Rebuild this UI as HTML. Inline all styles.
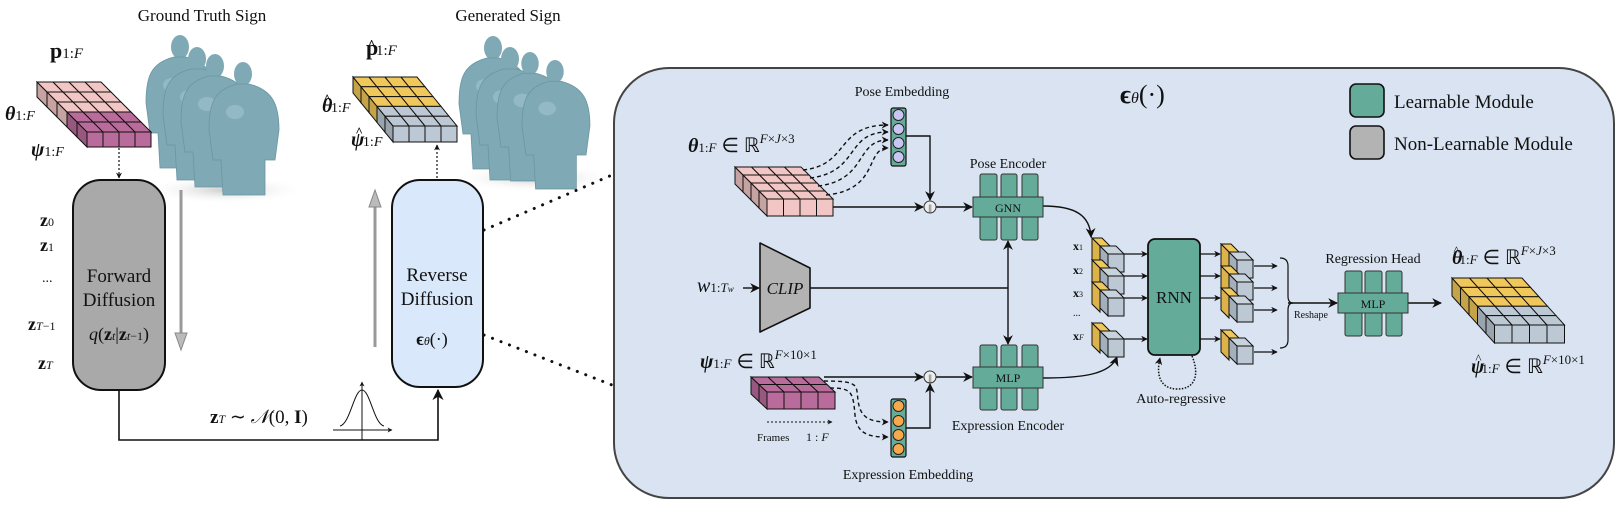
<!DOCTYPE html>
<html><head><meta charset="utf-8"><style>
html,body{margin:0;padding:0;background:#fff}
svg{display:block}
text{font-family:"Liberation Serif",serif;fill:#111}
.b{font-weight:bold}
.i{font-style:italic}
</style></head><body>
<svg id="s" width="1618" height="510" viewBox="0 0 1618 510" xmlns="http://www.w3.org/2000/svg">
<defs>
<marker id="ar" viewBox="0 0 10 10" refX="9" refY="5" markerWidth="7" markerHeight="7" orient="auto-start-reverse"><path d="M0,0 L10,5 L0,10 L3,5 z" fill="#111"/></marker>
<marker id="ars" viewBox="0 0 10 10" refX="9" refY="5" markerWidth="5" markerHeight="5" orient="auto-start-reverse"><path d="M0,0 L10,5 L0,10 L3,5 z" fill="#111"/></marker>
<radialGradient id="sh" cx="0.5" cy="0.5" r="0.5"><stop offset="0" stop-color="#ccc"/><stop offset="1" stop-color="#fff" stop-opacity="0"/></radialGradient>
</defs>

<!-- Panel (drawn first) -->
<rect x="614" y="68" width="1000" height="430" rx="55" fill="#d9e3f1" stroke="#444" stroke-width="2"/>

<!-- Titles -->
<text x="202" y="21" font-size="17" text-anchor="middle">Ground Truth Sign</text>
<text x="508" y="21" font-size="17" text-anchor="middle">Generated Sign</text>
<text x="50" y="58" font-size="22" class="b">p<tspan font-size="15" font-weight="normal">1:</tspan><tspan font-size="15" font-weight="normal" class="i">F</tspan></text>
<text x="366" y="55" font-size="22" class="b">p<tspan dx="-11" dy="-5" font-size="15">^</tspan><tspan dy="5" font-size="15" font-weight="normal">1:</tspan><tspan font-size="15" font-weight="normal" class="i">F</tspan></text>
<text x="5" y="120" font-size="20" class="b i">θ<tspan font-size="14" font-weight="normal" font-style="normal">1:</tspan><tspan font-size="14" font-weight="normal">F</tspan></text>
<text x="31" y="156" font-size="20" class="b i">ψ<tspan font-size="14" font-weight="normal" font-style="normal">1:</tspan><tspan font-size="14" font-weight="normal">F</tspan></text>
<text x="322" y="112" font-size="20" class="b i">θ<tspan dx="-9" dy="-9" font-size="13" font-style="normal">^</tspan><tspan dy="9" font-size="14" font-weight="normal" font-style="normal">1:</tspan><tspan font-size="14" font-weight="normal">F</tspan></text>
<text x="351" y="146" font-size="20" class="b i">ψ<tspan dx="-9" dy="-10" font-size="13" font-style="normal">^</tspan><tspan dy="10" font-size="14" font-weight="normal" font-style="normal">1:</tspan><tspan font-size="14" font-weight="normal">F</tspan></text>

<g id="humans"></g>
<g id="tens"></g>

<!-- dotted arrows -->
<line x1="119" y1="148" x2="119" y2="178" stroke="#111" stroke-width="1.2" stroke-dasharray="2,2" marker-end="url(#ars)"/>
<line x1="437" y1="178" x2="437" y2="145" stroke="#111" stroke-width="1.2" stroke-dasharray="2,2" marker-end="url(#ars)"/>

<!-- Forward box -->
<rect x="73" y="180" width="92" height="210" rx="28" fill="#a9a9a9" stroke="#111" stroke-width="2"/>
<text x="119" y="282" font-size="19" text-anchor="middle">Forward</text>
<text x="119" y="306" font-size="19" text-anchor="middle">Diffusion</text>
<text x="119" y="340" font-size="18" text-anchor="middle"><tspan class="i">q</tspan>(<tspan class="b">z</tspan><tspan font-size="12" class="i">t</tspan>|<tspan class="b">z</tspan><tspan font-size="12"><tspan class="i">t</tspan>−1</tspan>)</text>
<!-- gray arrows -->
<line x1="181" y1="190" x2="181" y2="335" stroke="#999" stroke-width="3"/>
<path d="M175,333 L187,333 L181,350 z" fill="#bbb" stroke="#888"/>
<line x1="375" y1="347" x2="375" y2="205" stroke="#999" stroke-width="3"/>
<path d="M369,207 L381,207 L375,190 z" fill="#bbb" stroke="#888"/>
<!-- z labels -->
<text x="40" y="226" font-size="18" class="b">z<tspan font-size="12" font-weight="normal">0</tspan></text>
<text x="40" y="251" font-size="18" class="b">z<tspan font-size="12" font-weight="normal">1</tspan></text>
<text x="42" y="282" font-size="14">...</text>
<text x="28" y="330" font-size="18" class="b">z<tspan font-size="12" font-weight="normal"><tspan class="i">T</tspan>−1</tspan></text>
<text x="38" y="369" font-size="18" class="b">z<tspan font-size="12" font-weight="normal" class="i">T</tspan></text>

<!-- Reverse box -->
<rect x="392" y="180" width="91" height="207" rx="28" fill="#dae8fb" stroke="#111" stroke-width="2"/>
<text x="437" y="281" font-size="19" text-anchor="middle">Reverse</text>
<text x="437" y="305" font-size="19" text-anchor="middle">Diffusion</text>
<text x="432" y="345" font-size="18" text-anchor="middle"><tspan class="b">ϵ</tspan><tspan font-size="12" class="i">θ</tspan>(·)</text>

<!-- bottom connector -->
<polyline points="119,390 119,440 438,440 438,390" fill="none" stroke="#111" stroke-width="1.6" marker-end="url(#ar)"/>
<text x="210" y="423" font-size="19"><tspan class="b">z</tspan><tspan font-size="12" class="i">T</tspan> ∼ <tspan class="i">𝒩</tspan>(0, <tspan class="b">I</tspan>)</text>
<line x1="333" y1="430" x2="392" y2="430" stroke="#111" stroke-width="1" marker-end="url(#ars)"/>
<line x1="362" y1="440" x2="362" y2="382" stroke="#111" stroke-width="1" marker-end="url(#ars)"/>
<path d="M340,426 C350,424 354,390 362,390 C370,390 374,424 384,426" fill="none" stroke="#111" stroke-width="1"/>

<!-- dotted zoom lines -->
<line x1="484" y1="230" x2="612" y2="175" stroke="#111" stroke-width="3" stroke-dasharray="0.1,9" stroke-linecap="round"/>
<line x1="484" y1="335" x2="612" y2="385" stroke="#111" stroke-width="3" stroke-dasharray="0.1,9" stroke-linecap="round"/>

<text x="1120" y="103" font-size="26"><tspan class="b">ϵ</tspan><tspan font-size="16" class="i">θ</tspan>(·)</text>
<rect x="1350" y="84" width="34" height="33" rx="6" fill="#64ab9a" stroke="#111" stroke-width="1.6"/>
<text x="1394" y="108" font-size="19">Learnable Module</text>
<rect x="1350" y="126" width="34" height="33" rx="6" fill="#b3b3b3" stroke="#111" stroke-width="1.6"/>
<text x="1394" y="150" font-size="19">Non-Learnable Module</text>

<text x="902" y="96" font-size="14" text-anchor="middle">Pose Embedding</text>
<text x="908" y="479" font-size="14" text-anchor="middle">Expression Embedding</text>
<text x="1008" y="168" font-size="14" text-anchor="middle">Pose Encoder</text>
<text x="1008" y="430" font-size="14" text-anchor="middle">Expression Encoder</text>

<text x="688" y="152" font-size="20"><tspan class="b i">θ</tspan><tspan font-size="13">1:</tspan><tspan font-size="13" class="i">F</tspan> ∈ ℝ<tspan font-size="13" dy="-9"><tspan class="i">F</tspan>×<tspan class="i">J</tspan>×3</tspan></text>
<text x="700" y="368" font-size="20"><tspan class="b i">ψ</tspan><tspan font-size="13">1:</tspan><tspan font-size="13" class="i">F</tspan> ∈ ℝ<tspan font-size="13" dy="-9"><tspan class="i">F</tspan>×10×1</tspan></text>
<text x="697" y="292" font-size="20" class="i">w<tspan font-size="13" font-style="normal">1:</tspan><tspan font-size="13">T<tspan font-size="9">w</tspan></tspan></text>

<!-- embeddings -->
<rect x="891" y="108" width="15" height="58" rx="2" fill="#64ab9a" stroke="#111" stroke-width="1.2"/>
<g fill="#c9c6f4" stroke="#222" stroke-width="1"><circle cx="898.5" cy="115" r="5.5"/><circle cx="898.5" cy="129" r="5.5"/><circle cx="898.5" cy="143" r="5.5"/><circle cx="898.5" cy="157" r="5.5"/></g>
<rect x="891" y="399" width="15" height="58" rx="2" fill="#64ab9a" stroke="#111" stroke-width="1.2"/>
<g fill="#f9a94d" stroke="#222" stroke-width="1"><circle cx="898.5" cy="406" r="5.5"/><circle cx="898.5" cy="421" r="5.5"/><circle cx="898.5" cy="435" r="5.5"/><circle cx="898.5" cy="449" r="5.5"/></g>

<!-- dashed curves -->
<g fill="none" stroke="#111" stroke-width="1.4" stroke-dasharray="4,3" marker-end="url(#ars)">
<path d="M803,170 C850,165 835,125 888,125"/>
<path d="M810,178 C860,172 845,132 888,132"/>
<path d="M818,186 C868,180 855,140 888,140"/>
<path d="M826,195 C880,190 865,148 888,148"/>
<path d="M824,381 C860,381 856,385 858,400 C860,418 870,422 888,422"/>
<path d="M830,388 C852,388 853,392 855,415 C857,435 870,437 888,437"/>
</g>
<line x1="767" y1="422" x2="832" y2="422" stroke="#111" stroke-width="1" stroke-dasharray="2,2" marker-end="url(#ars)"/>
<text x="757" y="441" font-size="11">Frames</text>
<text x="806" y="441" font-size="12">1 : <tspan class="i">F</tspan></text>

<!-- solid connectors -->
<g fill="none" stroke="#111" stroke-width="1.4" marker-end="url(#ar)">
<polyline points="906,136 930,136 930,200"/>
<line x1="833" y1="207" x2="923" y2="207"/>
<line x1="936" y1="207" x2="972" y2="207"/>
<line x1="824" y1="377" x2="923" y2="377"/>
<line x1="936" y1="377" x2="972" y2="377"/>
<polyline points="906,428 930,428 930,384"/>
<line x1="743" y1="288" x2="759" y2="288"/>
<path d="M1043,206 C1075,206 1090,215 1091,237"/>
<path d="M1043,378 C1080,378 1110,375 1117,357"/>
<line x1="1008" y1="288" x2="1008" y2="241"/>
<line x1="1008" y1="288" x2="1008" y2="344"/>
<line x1="1408" y1="303" x2="1441" y2="303"/>
<line x1="1288" y1="303" x2="1337" y2="303"/>
</g>
<line x1="810" y1="288" x2="1008" y2="288" stroke="#111" stroke-width="1.4"/>
<circle cx="930" cy="207" r="6" fill="#eee" stroke="#333"/><text x="930" y="211" font-size="9" text-anchor="middle">||</text>
<circle cx="930" cy="377" r="6" fill="#eee" stroke="#333"/><text x="930" y="381" font-size="9" text-anchor="middle">||</text>

<!-- CLIP -->
<path d="M760,243 L810,268 L810,308 L760,332 z" fill="#b3b3b3" stroke="#111" stroke-width="1.6" stroke-linejoin="round"/>
<text x="785" y="294" font-size="17" class="i" text-anchor="middle">CLIP</text>

<!-- GNN / MLP encoders -->
<g fill="#64ab9a" stroke="#333" stroke-width="1">
<rect x="980" y="174" width="17" height="66" rx="2"/><rect x="1001" y="174" width="16" height="66" rx="2"/><rect x="1022" y="174" width="16" height="66" rx="2"/>
<rect x="973" y="197" width="70" height="20"/>
<rect x="980" y="345" width="17" height="65" rx="2"/><rect x="1001" y="345" width="16" height="65" rx="2"/><rect x="1022" y="345" width="16" height="65" rx="2"/>
<rect x="973" y="367" width="70" height="21"/>
<rect x="1345" y="271" width="17" height="65" rx="2"/><rect x="1365" y="271" width="17" height="65" rx="2"/><rect x="1386" y="271" width="16" height="65" rx="2"/>
<rect x="1338" y="293" width="70" height="20"/>
</g>
<text x="1008" y="212" font-size="12" text-anchor="middle">GNN</text>
<text x="1008" y="382" font-size="12" text-anchor="middle">MLP</text>
<text x="1373" y="308" font-size="12" text-anchor="middle">MLP</text>
<text x="1373" y="263" font-size="14" text-anchor="middle">Regression Head</text>
<text x="1294" y="318" font-size="10">Reshape</text>

<!-- RNN -->
<rect x="1148" y="239" width="52" height="116" rx="7" fill="#64ab9a" stroke="#111" stroke-width="1.8"/>
<text x="1174" y="303" font-size="17" text-anchor="middle">RNN</text>
<path d="M1192,356 C1200,375 1195,390 1176,389 C1160,388 1156,375 1160,358" fill="none" stroke="#111" stroke-width="1.5" stroke-dasharray="1.5,1.5" marker-end="url(#ars)"/>
<text x="1181" y="403" font-size="14" text-anchor="middle">Auto-regressive</text>

<g id="cubes"></g>
<g fill="none" stroke="#111" stroke-width="1.3" marker-end="url(#ars)" id="carr"></g>
<path d="M1280,258 Q1288,258 1288,266 L1288,296 Q1288,303 1293,303 Q1288,303 1288,310 L1288,340 Q1288,348 1280,348" fill="none" stroke="#111" stroke-width="1.2"/>
<text x="1073" y="250" font-size="12" class="b">x<tspan font-size="8" font-weight="normal">1</tspan></text>
<text x="1073" y="274" font-size="12" class="b">x<tspan font-size="8" font-weight="normal">2</tspan></text>
<text x="1073" y="297" font-size="12" class="b">x<tspan font-size="8" font-weight="normal">3</tspan></text>
<text x="1073" y="316" font-size="10">...</text>
<text x="1073" y="340" font-size="12" class="b">x<tspan font-size="8" font-weight="normal" class="i">F</tspan></text>

<text x="1452" y="264" font-size="20"><tspan class="b i">θ</tspan><tspan dx="-9" dy="-9" font-size="13">^</tspan><tspan dy="9" font-size="13">1:</tspan><tspan font-size="13" class="i">F</tspan> ∈ ℝ<tspan font-size="13" dy="-9"><tspan class="i">F</tspan>×<tspan class="i">J</tspan>×3</tspan></text>
<text x="1471" y="373" font-size="20"><tspan class="b i">ψ</tspan><tspan dx="-9" dy="-10" font-size="13">^</tspan><tspan dy="10" font-size="13">1:</tspan><tspan font-size="13" class="i">F</tspan> ∈ ℝ<tspan font-size="13" dy="-9"><tspan class="i">F</tspan>×10×1</tspan></text>
</svg>
<script>
var NS="http://www.w3.org/2000/svg";
function el(p,t,a){var e=document.createElementNS(NS,t);for(var k in a)e.setAttribute(k,a[k]);p.appendChild(e);return e;}
function dk(c){var n=parseInt(c.slice(1),16),r=(n>>16)*0.82|0,g=((n>>8)&255)*0.82|0,b=(n&255)*0.82|0;return "rgb("+r+","+g+","+b+")";}
function tensor(g,x0,y0,cols,rows,w,dx,dy,d,cols2){
 for(var i=0;i<rows;i++){var c=cols2[i];
  el(g,"polygon",{points:[x0+i*dx,y0+i*dy,x0+(i+1)*dx,y0+(i+1)*dy,x0+(i+1)*dx,y0+(i+1)*dy+d,x0+i*dx,y0+i*dy+d].join(","),fill:dk(c),stroke:"#111","stroke-width":1});
  for(var j=0;j<cols;j++){
   el(g,"polygon",{points:[x0+i*dx+j*w,y0+i*dy,x0+i*dx+(j+1)*w,y0+i*dy,x0+(i+1)*dx+(j+1)*w,y0+(i+1)*dy,x0+(i+1)*dx+j*w,y0+(i+1)*dy].join(","),fill:c,stroke:"#111","stroke-width":1});}}
 var fc=cols2[rows-1];
 for(var j=0;j<cols;j++)el(g,"rect",{x:x0+rows*dx+j*w,y:y0+rows*dy,width:w,height:d,fill:fc,stroke:"#111","stroke-width":1});
}
var T=document.getElementById("tens");
var P="#f2c6c4",M="#b96b9c",Y="#f0c75a",G="#bcc8d3";
tensor(T,37,82,4,5,16,10,10,15,[P,P,P,M,M]);
tensor(T,353,77,4,5,16,8,9.8,16,[Y,Y,Y,G,G]);
tensor(T,735,167,4,4,16.5,8,8,17,[P,P,P,P]);
tensor(T,751,377,4,2,17,8,7.5,17,[M,M]);
tensor(T,1452,278,4,5,17.5,8.5,9.4,18,[Y,Y,Y,G,G]);
var C=document.getElementById("cubes");
function cube(x,y){
 el(C,"polygon",{points:[x,y,x+10,y,x+18,y+8,x+8,y+8].join(","),fill:Y,stroke:"#111","stroke-width":1});
 el(C,"polygon",{points:[x,y,x+8,y+8,x+8,y+30,x,y+22].join(","),fill:"#dcb24a",stroke:"#111","stroke-width":1});
 el(C,"polygon",{points:[x+8,y+8,x+16,y+16,x+16,y+34,x+8,y+26].join(","),fill:"#a3afba",stroke:"#111","stroke-width":1});
 el(C,"polygon",{points:[x+8,y+8,x+24,y+8,x+32,y+16,x+16,y+16].join(","),fill:"#c9d3dc",stroke:"#111","stroke-width":1});
 el(C,"rect",{x:x+16,y:y+16,width:16,height:18,fill:G,stroke:"#111","stroke-width":1});
}
var ys=[238,260,282,323],ys2=[244,266,288,330],A=document.getElementById("carr");
for(var k=0;k<4;k++){cube(1092,ys[k]);cube(1221,ys2[k]);
 var a=ys[k]+16;el(A,"line",{x1:1124,y1:a,x2:1147,y2:a});el(A,"line",{x1:1200,y1:a,x2:1220,y2:a});
 var b=ys2[k]+22;el(A,"line",{x1:1254,y1:b,x2:1277,y2:b});}
var H=document.getElementById("humans");
function human(cx,ty,s){
 var f="#7fa9b5";
 el(H,"ellipse",{cx:cx,cy:ty+s*14,rx:s*9,ry:s*12,fill:f});
 el(H,"path",{d:"M"+(cx-s*6)+","+(ty+s*24)+" C"+(cx-s*30)+","+(ty+s*30)+" "+(cx-s*34)+","+(ty+s*45)+" "+(cx-s*34)+","+(ty+s*70)+" L"+(cx-s*30)+","+(ty+s*100)+" L"+(cx-s*22)+","+(ty+s*100)+" L"+(cx-s*20)+","+(ty+s*135)+" L"+(cx+s*22)+","+(ty+s*135)+" L"+(cx+s*22)+","+(ty+s*100)+" L"+(cx+s*32)+","+(ty+s*100)+" L"+(cx+s*36)+","+(ty+s*70)+" C"+(cx+s*36)+","+(ty+s*45)+" "+(cx+s*30)+","+(ty+s*30)+" "+(cx+s*6)+","+(ty+s*24)+" z",fill:f,stroke:"#6a95a2","stroke-width":0.8});
 el(H,"ellipse",{cx:cx-s*8,cy:ty+s*52,rx:s*9,ry:s*7,fill:"#93b9c4"});
}
el(H,"ellipse",{cx:225,cy:190,rx:80,ry:14,fill:"url(#sh)"});
el(H,"ellipse",{cx:535,cy:178,rx:80,ry:14,fill:"url(#sh)"});
[[180,33,1.0],[197,45,1.0],[215,52,1.0],[243,60,1.0]].forEach(function(p){human(p[0],p[1],p[2]);});
[[493,34,1.0],[510,45,1.0],[530,50,0.97],[555,58,0.97]].forEach(function(p){human(p[0],p[1],p[2]);});
</script>
</body></html>
